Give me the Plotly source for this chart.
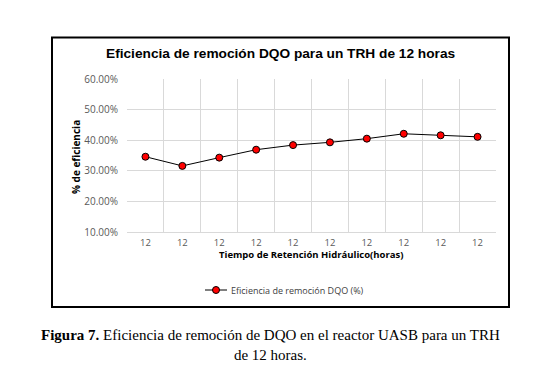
import plotly.graph_objects as go

categories = ["12", "12", "12", "12", "12", "12", "12", "12", "12", "12"]
efficiency = [34.6, 31.6, 34.3, 36.9, 38.4, 39.3, 40.5, 42.1, 41.6, 41.1]
y_ticks = [10, 20, 30, 40, 50, 60]
y_tick_labels = ["10.00%", "20.00%", "30.00%", "40.00%", "50.00%", "60.00%"]

positions = list(range(len(categories)))
boundaries = [i - 0.5 for i in range(len(categories) + 1)]

W, H = 551, 373
OFF = 8  # default page body margin
L, R, T, B = 127, 496, 79, 232  # plot area in window pixel coords

def px(x):
    return (x - L) / (R - L)

def py(y):
    return (B - y) / (B - T)

fig = go.Figure()
fig.add_trace(go.Scatter(
    x=positions, y=efficiency, mode="lines+markers",
    name="Eficiencia de remoción DQO (%)",
    line=dict(color="black", width=1),
    marker=dict(color="#ff0000", size=7, line=dict(color="black", width=1)),
    showlegend=False,
))

fig.update_layout(
    width=W - OFF, height=H - OFF,
    margin=dict(l=L - OFF, r=W - R, t=T - OFF, b=H - B),
    paper_bgcolor="white", plot_bgcolor="white",
    font=dict(family="Liberation Sans, Arial", color="#595959"),
    xaxis=dict(
        range=[-0.5, len(categories) - 0.5],
        tickvals=positions, ticktext=categories,
        showgrid=False, zeroline=False,
        showline=True, linecolor="#d9d9d9", linewidth=1,
        ticks="", tickfont=dict(size=9.5, family="Open Sans, Liberation Sans", color="#595959"),
        ticklabelstandoff=2,
        minor=dict(tickvals=boundaries, showgrid=True, gridcolor="#d9d9d9", gridwidth=1, ticks=""),
        fixedrange=True,
    ),
    yaxis=dict(
        range=[10, 60], tickvals=y_ticks, ticktext=y_tick_labels,
        showgrid=True, gridcolor="#d9d9d9", gridwidth=1,
        zeroline=False, showline=False, ticks="",
        tickfont=dict(size=10, family="Open Sans, Liberation Sans", color="#595959"),
        ticklabelstandoff=8,
        fixedrange=True,
    ),
)

shapes = [
    dict(type="rect", xref="paper", yref="paper",
         x0=px(52), x1=px(509), y0=py(307), y1=py(37.5),
         line=dict(color="black", width=2), fillcolor="rgba(0,0,0,0)", layer="below"),
    # legend sample line
    dict(type="line", xref="paper", yref="paper",
         x0=px(205), x1=px(227), y0=py(290), y1=py(290),
         line=dict(color="black", width=1)),
    # legend sample marker
    dict(type="circle", xref="paper", yref="paper",
         xsizemode="pixel", ysizemode="pixel",
         xanchor=px(216), yanchor=py(290),
         x0=-3.5, x1=3.5, y0=-3.5, y1=3.5,
         fillcolor="#ff0000", line=dict(color="black", width=1)),
]
fig.update_layout(shapes=shapes)

annotations = [
    dict(text="<b>Eficiencia de remoción DQO para un TRH de 12 horas</b>",
         x=px(281), y=py(54), xref="paper", yref="paper", showarrow=False,
         xanchor="center", yanchor="middle",
         font=dict(size=13.7, family="Liberation Sans, Arial", color="black")),
    dict(text="<b>% de eficiencia</b>", textangle=-90,
         x=px(76), y=py(157), xref="paper", yref="paper", showarrow=False,
         xanchor="center", yanchor="middle",
         font=dict(size=10, family="Open Sans, Liberation Sans", color="black")),
    dict(text="<b>Tiempo de Retención Hidráulico(horas)</b>",
         x=px(311), y=py(254), xref="paper", yref="paper", showarrow=False,
         xanchor="center", yanchor="middle",
         font=dict(size=9.5, family="Open Sans, Liberation Sans", color="black")),
    dict(text="Eficiencia de remoción DQO (%)",
         x=px(229), y=py(290), xref="paper", yref="paper", showarrow=False,
         xanchor="left", yanchor="middle",
         font=dict(size=9, family="Open Sans, Liberation Sans", color="#404040")),
    dict(text="<b>Figura 7.</b> Eficiencia de remoción de DQO en el reactor UASB para un TRH<br>de 12 horas.",
         x=px(270), y=py(344.5), xref="paper", yref="paper", showarrow=False,
         xanchor="center", yanchor="middle", align="center",
         font=dict(size=15, family="Liberation Serif, Times New Roman", color="black")),
]
fig.update_layout(annotations=annotations)

fig.write_html("out.html")
